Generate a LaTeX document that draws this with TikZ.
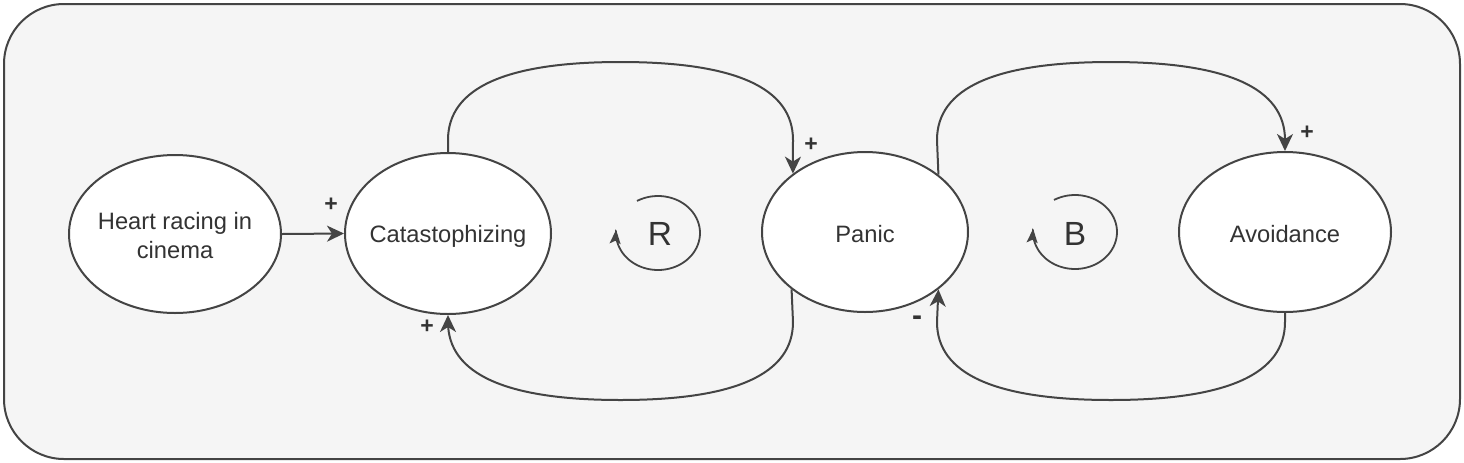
\documentclass[tikz,border=0pt]{standalone}
\usepackage{fontspec}
\setmainfont{Liberation Sans}
\usetikzlibrary{arrows.meta,calc,shapes.geometric}
\definecolor{linec}{HTML}{444444}
\definecolor{textc}{HTML}{333333}
\definecolor{bgc}{HTML}{F5F5F5}
\newcommand{\zbox}[2][-4.3pt]{\makebox[0pt][c]{\raisebox{#1}[0pt][0pt]{#2}}}
\begin{document}
\begin{tikzpicture}[x=0.5pt,y=-0.5pt,
  node/.style={ellipse,draw=linec,line width=1pt,fill=white,inner sep=0pt,
    text=textc,font=\fontsize{11.85}{14}\selectfont},
  conn/.style={draw=linec,line width=1pt,-{Stealth[length=8.5pt,width=8pt,inset=2.5pt]}},
  lbl/.style={text=textc,inner sep=0pt,font=\fontsize{11.5}{13}\selectfont\bfseries},
  loopline/.style={draw=linec,line width=0.9pt,-{Stealth[length=7pt,width=5.5pt,inset=1.5pt]}},
  looplbl/.style={text=textc,inner sep=0pt,font=\fontsize{16.75}{20}\selectfont}]
\useasboundingbox (0,0) rectangle (1464,462);
\draw[draw=linec,fill=bgc,line width=1pt,rounded corners=30pt] (4,4) rectangle (1460,459);

\node[node,minimum width=106pt,minimum height=79pt] (heart) at (175,234)
  {\zbox[-5.2pt]{\begin{tabular}{@{}c@{}}Heart racing in\\[0.8pt]cinema\end{tabular}}};
\node[node,minimum width=103pt,minimum height=80.5pt] (cat) at (448,233.5) {\zbox{Catastophizing}};
\node[node,minimum width=103pt,minimum height=80pt] (panic) at (865,232) {\zbox[-5.1pt]{Panic}};
\node[node,minimum width=106pt,minimum height=80pt] (avoid) at (1285,232) {\zbox[-5.1pt]{Avoidance}};

% heart -> cat
\draw[conn] (heart.east) -- (cat.west);
\node[lbl] (l1) at (331,205) {+};

% cat -> panic (top)
\draw[conn] (cat.north) -- (448,140) .. controls (448,88) and (505.5,62) .. (620.5,62)
  .. controls (735.5,62) and (793,88) .. (793,140) -- (panic.141.6);
\node[lbl] (l2) at (811,145) {+};

% panic -> cat (bottom)
\draw[conn] (panic.218.9) -- (793,322) .. controls (793,374) and (735.5,400) .. (620.5,400)
  .. controls (505.5,400) and (448,374) .. (448,322) -- (cat.south);
\node[lbl] (l3) at (427,327) {+};

% panic -> avoid (top)
\draw[conn] (panic.38.5) -- (937,140) .. controls (937,88) and (995,62) .. (1111,62)
  .. controls (1227,62) and (1285,88) .. (1285,140) -- (avoid.north);
\node[lbl] (l4) at (1307,133) {+};

% avoid -> panic (bottom)
\draw[conn] (avoid.south) -- (1285,322) .. controls (1285,374) and (1227,400) .. (1111,400)
  .. controls (995,400) and (937,374) .. (937,322) -- (panic.-38.5);
\node[lbl,font=\fontsize{15}{16}\selectfont\bfseries] (l5) at (917,321) {-};

% loop symbols
\draw[loopline] plot[domain=240:545,samples=90,smooth] ({658+42*cos(\x)},{233+37*sin(\x)});
\node[looplbl] (rlbl) at (660,234) {R};
\draw[loopline] plot[domain=240:545,samples=90,smooth] ({1075+42*cos(\x)},{232+37*sin(\x)});
\node[looplbl] (blbl) at (1075,234) {B};
\end{tikzpicture}
\end{document}
